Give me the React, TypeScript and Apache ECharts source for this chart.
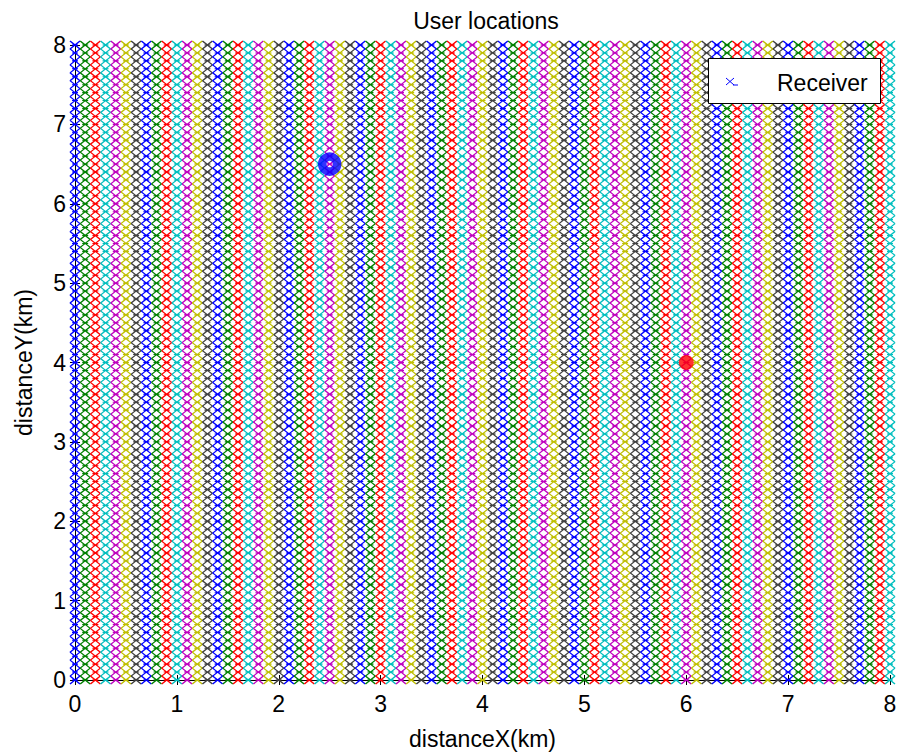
import React, { useEffect, useRef } from "react";
import * as echarts from "echarts";

// Grid of candidate user locations (km)
const gridX: number[] = [
  0, 0.1, 0.2, 0.3, 0.4, 0.5, 0.6, 0.7, 0.8, 0.9,
  1, 1.1, 1.2, 1.3, 1.4, 1.5, 1.6, 1.7, 1.8, 1.9,
  2, 2.1, 2.2, 2.3, 2.4, 2.5, 2.6, 2.7, 2.8, 2.9,
  3, 3.1, 3.2, 3.3, 3.4, 3.5, 3.6, 3.7, 3.8, 3.9,
  4, 4.1, 4.2, 4.3, 4.4, 4.5, 4.6, 4.7, 4.8, 4.9,
  5, 5.1, 5.2, 5.3, 5.4, 5.5, 5.6, 5.7, 5.8, 5.9,
  6, 6.1, 6.2, 6.3, 6.4, 6.5, 6.6, 6.7, 6.8, 6.9,
  7, 7.1, 7.2, 7.3, 7.4, 7.5, 7.6, 7.7, 7.8, 7.9,
  8,
];
const gridY: number[] = [
  0, 0.1, 0.2, 0.3, 0.4, 0.5, 0.6, 0.7, 0.8, 0.9,
  1, 1.1, 1.2, 1.3, 1.4, 1.5, 1.6, 1.7, 1.8, 1.9,
  2, 2.1, 2.2, 2.3, 2.4, 2.5, 2.6, 2.7, 2.8, 2.9,
  3, 3.1, 3.2, 3.3, 3.4, 3.5, 3.6, 3.7, 3.8, 3.9,
  4, 4.1, 4.2, 4.3, 4.4, 4.5, 4.6, 4.7, 4.8, 4.9,
  5, 5.1, 5.2, 5.3, 5.4, 5.5, 5.6, 5.7, 5.8, 5.9,
  6, 6.1, 6.2, 6.3, 6.4, 6.5, 6.6, 6.7, 6.8, 6.9,
  7, 7.1, 7.2, 7.3, 7.4, 7.5, 7.6, 7.7, 7.8, 7.9,
  8,
];
const blueUser: number[] = [2.5, 6.5];
const redUser: number[] = [6, 4];
const axisTicks: number[] = [0, 1, 2, 3, 4, 5, 6, 7, 8];
const colorOrder: string[] = ["#0000ff", "#008000", "#ff0000", "#00bfbf", "#bf00bf", "#bfbf00", "#404040"];

const FONT = "'Liberation Sans', Arial, sans-serif";
const X_PATH = "path://M0,0L10,8M10,0L0,8M2,4L8,4";

export default function App() {
  const ref = useRef<HTMLDivElement>(null);
  useEffect(() => {
    if (!ref.current) return;
    const chart = echarts.init(ref.current, undefined, { renderer: "svg" });

    const gridSeries = gridX.map((x, i) => {
      const c = colorOrder[i % colorOrder.length];
      return {
        type: "scatter",
        name: i === 0 ? "Receiver" : "col" + i,
        data: gridY.map((y) => [x, y]),
        symbol: X_PATH,
        symbolSize: [10, 8],
        symbolKeepAspect: false,
        clip: false,
        silent: true,
        itemStyle: { color: "none", borderColor: c, borderWidth: 1.2, opacity: 1 },
        z: 2,
      };
    });

    const axisCommon = {
      type: "value",
      min: axisTicks[0],
      max: axisTicks[axisTicks.length - 1],
      interval: 1,
      splitLine: { show: false },
      axisLine: { show: true, lineStyle: { color: "#000", width: 1 } },
      axisTick: { show: true, inside: true, length: 5, lineStyle: { color: "#000" } },
    };

    chart.setOption({
      animation: false,
      backgroundColor: "#fff",
      title: {
        text: "User locations",
        left: 481,
        top: 4,
        textAlign: "center",
        textStyle: { fontFamily: FONT, fontSize: 23, fontWeight: "normal", color: "#000" },
      },
      grid: { left: 75, right: 11, top: 45, bottom: 69, containLabel: false },
      xAxis: [
        {
          ...axisCommon,
          position: "bottom",
          name: "distanceX(km)",
          nameLocation: "middle",
          nameGap: 47,
          nameTextStyle: { fontFamily: FONT, fontSize: 23, color: "#000" },
          axisLabel: { fontFamily: FONT, fontSize: 23, color: "#000", margin: 12 },
        },
        {
          ...axisCommon,
          position: "top",
          axisLabel: { show: false },
        },
      ],
      yAxis: [
        {
          ...axisCommon,
          position: "left",
          name: "distanceY(km)",
          nameLocation: "middle",
          nameGap: 40,
          nameTextStyle: { fontFamily: FONT, fontSize: 23, color: "#000" },
          axisLabel: { fontFamily: FONT, fontSize: 23, color: "#000", margin: 9 },
        },
        {
          ...axisCommon,
          position: "right",
          axisLabel: { show: false },
        },
      ],
      series: [
        ...gridSeries,
        {
          type: "scatter",
          name: "userBlue",
          data: [blueUser],
          symbol: "circle",
          symbolSize: 15,
          clip: false,
          itemStyle: { color: "none", borderColor: "#0000ff", borderWidth: 8.5 },
          z: 5,
        },
        {
          type: "scatter",
          name: "userRed",
          data: [redUser],
          symbol: "circle",
          symbolSize: 15,
          clip: false,
          itemStyle: { color: "#ff0000" },
          z: 5,
        },
      ],
      graphic: [
        {
          type: "rect",
          z: 100,
          shape: { x: 708.5, y: 58.5, width: 172, height: 45 },
          style: { fill: "#fff", stroke: "#000", lineWidth: 1 },
        },
        {
          type: "line",
          z: 101,
          shape: { x1: 726, y1: 78, x2: 734, y2: 85 },
          style: { stroke: "#0000ff", lineWidth: 1 },
        },
        {
          type: "line",
          z: 101,
          shape: { x1: 734, y1: 78, x2: 726, y2: 85 },
          style: { stroke: "#0000ff", lineWidth: 1 },
        },
        {
          type: "line",
          z: 101,
          shape: { x1: 733, y1: 85, x2: 738, y2: 85 },
          style: { stroke: "#0000ff", lineWidth: 1 },
        },
        {
          type: "text",
          z: 101,
          x: 777,
          y: 83,
          style: {
            text: "Receiver",
            fontFamily: FONT,
            fontSize: 23,
            fill: "#000",
            verticalAlign: "middle",
          },
        },
      ],
    });
    return () => chart.dispose();
  }, []);
  return (
    <div
      ref={ref}
      style={{ position: "absolute", left: 0, top: 0, width: 901, height: 755 }}
    />
  );
}
